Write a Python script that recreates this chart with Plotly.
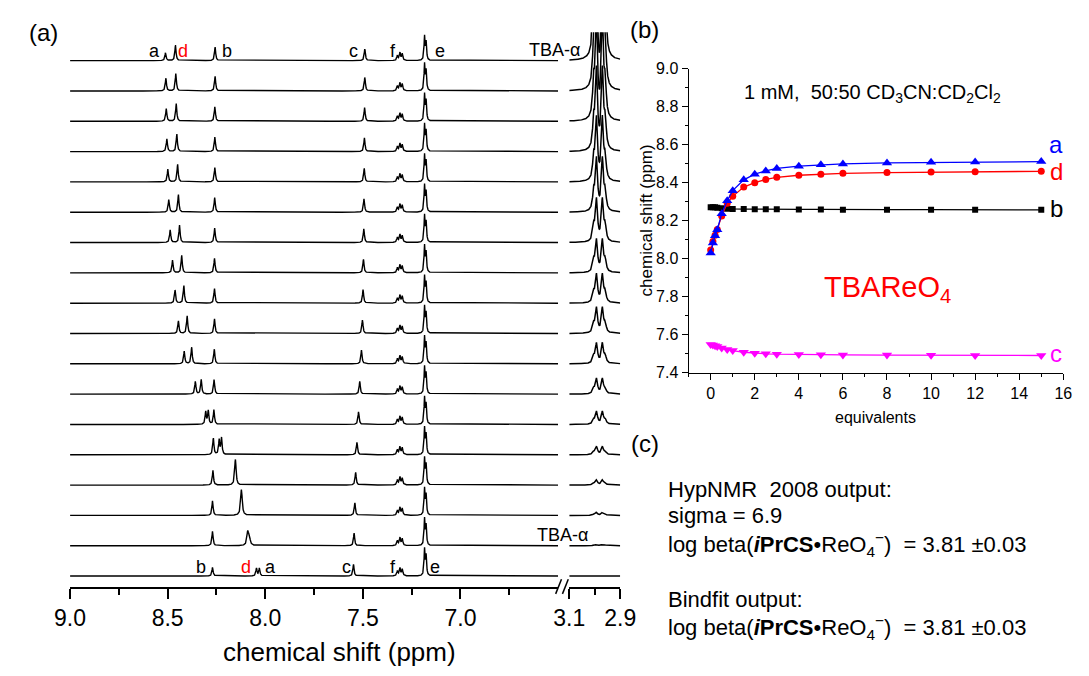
import numpy as np
import plotly.graph_objects as go

W, H = 1089, 676
FONT = "Liberation Sans, Arial, sans-serif"

# ---------------- data ----------------
equivalents = [0, 0.1, 0.2, 0.3, 0.5, 0.75, 1, 1.5, 2, 2.5, 3, 4, 5, 6, 8, 10, 12, 15]

shift_a = [8.030, 8.082, 8.121, 8.152, 8.236, 8.305, 8.358, 8.415, 8.445, 8.462, 8.475, 8.487,
           8.494, 8.499, 8.504, 8.507, 8.509, 8.511]
shift_d = [8.045, 8.090, 8.123, 8.154, 8.224, 8.292, 8.328, 8.377, 8.400, 8.417, 8.428, 8.439,
           8.445, 8.449, 8.453, 8.456, 8.458, 8.460]
shift_b = [8.270, 8.270, 8.270, 8.268, 8.266, 8.263, 8.262, 8.261, 8.260, 8.260, 8.260, 8.259,
           8.259, 8.258, 8.258, 8.258, 8.257, 8.257]
shift_c = [7.548, 7.545, 7.541, 7.537, 7.530, 7.522, 7.516, 7.507, 7.502, 7.499, 7.497, 7.495,
           7.494, 7.493, 7.492, 7.491, 7.490, 7.490]

# peak intensities (one stacking offset = 31 units)
height_a = [8, 9, 14, 14, 15, 13, 13, 13, 13, 13, 13, 13, 13, 13, 13, 13, 13, 8]
height_d = [8, 13, 14, 14, 17, 14, 15, 17, 18, 18, 18, 18, 18, 18, 18, 18, 18, 16]
height_b = [9, 15, 15, 15, 17, 15, 15, 15, 15, 15, 15, 15, 15, 15, 15, 15, 15, 14]
height_c = [12, 13, 13, 13, 13, 13, 13, 14, 14, 14, 14, 14, 14, 14, 14, 14, 14, 12]
width_ad = [0.0035, 0.005, 0.0045, 0.004, 0.0035, 0.0035, 0.0035, 0.0035, 0.0035, 0.0035,
            0.0035, 0.0035, 0.0035, 0.0035, 0.0035, 0.0035, 0.0035, 0.0035]

shift_f = [7.323, 7.310, 7.298]
height_f = [5, 8, 7]
shift_e = [7.184, 7.176]
height_e = [27, 20]

shift_tba = [3.004, 2.993, 2.970, 2.959]
rel_tba = [0.35, 1.0, 1.0, 0.35]
height_tba = [0, 1.5, 3, 5, 8, 12.5, 15, 20, 25, 28, 32, 42, 52, 62, 80, 100, 120, 150]

OFFSET = 31.1


def lor(x, x0, h, g):
    return h / (1.0 + ((x - x0) / g) ** 2)


def px_x(p):
    return p / W


def px_y(p):
    return 1 - p / H


fig = go.Figure()

grid_main = np.arange(6.5, 9.0005, 0.0008)
grid_tba = np.arange(2.9, 3.1002, 0.0004)

for i in range(len(equivalents)):
    s = np.zeros_like(grid_main)
    s += lor(grid_main, shift_a[i], height_a[i], width_ad[i])
    s += lor(grid_main, shift_d[i], height_d[i], width_ad[i])
    s += lor(grid_main, shift_b[i], height_b[i], 0.0035)
    s += lor(grid_main, shift_c[i], height_c[i], 0.0035)
    for p, h in zip(shift_f, height_f):
        s += lor(grid_main, p, h, 0.0035)
    for p, h in zip(shift_e, height_e):
        s += lor(grid_main, p, h * (0.9 if i == len(equivalents) - 1 else 1.0), 0.003)
    fig.add_trace(go.Scatter(x=grid_main, y=np.round(i + s / OFFSET, 4), mode="lines",
                             line=dict(color="black", width=1.4), xaxis="x", yaxis="y",
                             hoverinfo="skip", showlegend=False))
    t = np.zeros_like(grid_tba)
    for p, r in zip(shift_tba, rel_tba):
        t += lor(grid_tba, p, height_tba[i] * r, 0.0048)
    fig.add_trace(go.Scatter(x=grid_tba, y=np.round(i + t / OFFSET, 4), mode="lines",
                             line=dict(color="black", width=1.5), xaxis="x2", yaxis="y",
                             hoverinfo="skip", showlegend=False))

# ---------------- panel (b) ----------------
series_b = [
    ("c", shift_c, "#FF00FF", "triangle-down", 9),
    ("b", shift_b, "black", "square", 6),
    ("d", shift_d, "#FF0000", "circle", 7),
    ("a", shift_a, "#0000FF", "triangle-up", 9),
]
for name, vals, col, sym, sz in series_b:
    fig.add_trace(go.Scatter(x=equivalents, y=vals, mode="lines+markers", name=name,
                             line=dict(color=col, width=1.3),
                             marker=dict(color=col, symbol=sym, size=sz),
                             xaxis="x3", yaxis="y3", showlegend=False))

base_top = 25
base_bottom = 594
base0 = 582.7

axis_common = dict(showline=True, linecolor="black", linewidth=1.5, ticks="outside",
                   tickcolor="black", showgrid=False, zeroline=False)

fig.update_layout(
    width=W, height=676, margin=dict(l=0, r=0, t=0, b=0),
    paper_bgcolor="white", plot_bgcolor="white",
    font=dict(family=FONT, color="black"),
    xaxis=dict(domain=[px_x(55.7), px_x(558.5)], range=[9.0, 6.5], anchor="y",
               tickvals=[9.0, 8.5, 8.0, 7.5, 7.0], ticktext=["9.0", "8.5", "8.0", "7.5", "7.0"],
               ticklen=10, tickwidth=1.5, tickfont=dict(size=23),
               minor=dict(tickvals=[8.75, 8.25, 7.75, 7.25, 6.75], ticklen=6, tickwidth=1.5,
                          ticks="outside", tickcolor="black", showgrid=False),
               **axis_common),
    xaxis2=dict(domain=[px_x(570), px_x(622.5)], range=[3.1, 2.9], anchor="y",
                tickvals=[3.1, 2.9], ticktext=["3.1", "2.9"],
                ticklen=10, tickwidth=1.5, tickfont=dict(size=23),
                minor=dict(tickvals=[3.0], ticklen=6, tickwidth=1.5, ticks="outside",
                           tickcolor="black", showgrid=False),
                **axis_common),
    yaxis=dict(domain=[px_y(base_bottom), px_y(base_top)],
               range=[-(base_bottom - base0) / OFFSET, (base0 - base_top) / OFFSET],
               visible=False),
    xaxis3=dict(domain=[px_x(693), px_x(1079)], range=[-1, 16], anchor="y3",
                tickvals=list(range(0, 17, 2)), ticklen=6, tickwidth=1.2,
                tickfont=dict(size=16),
                minor=dict(dtick=1, tick0=0, ticklen=3, tickwidth=1.2, ticks="outside",
                           tickcolor="black", showgrid=False),
                showline=True, linecolor="black", linewidth=1.2, ticks="outside",
                tickcolor="black", showgrid=False, zeroline=False),
    yaxis3=dict(domain=[px_y(374), px_y(62.3)], range=[7.4, 9.0], anchor="x3",
                tickvals=[7.4, 7.6, 7.8, 8.0, 8.2, 8.4, 8.6, 8.8, 9.0], tickformat=".1f",
                ticklen=6, tickwidth=1.2, tickfont=dict(size=16),
                minor=dict(dtick=0.1, tick0=7.4, ticklen=3, tickwidth=1.2, ticks="outside",
                           tickcolor="black", showgrid=False),
                showline=True, linecolor="black", linewidth=1.2, ticks="outside",
                tickcolor="black", showgrid=False, zeroline=False),
)

# axis break marks
for x0 in (556, 563):
    fig.add_shape(type="line", xref="paper", yref="paper",
                  x0=px_x(x0), y0=px_y(601), x1=px_x(x0 + 6), y1=px_y(586),
                  line=dict(color="black", width=1.5))

ann = []


def label(text, x, y, size, color="black", xanchor="center", angle=0):
    ann.append(dict(text=text, x=px_x(x), y=px_y(y), xref="paper", yref="paper",
                    xanchor=xanchor, yanchor="middle", showarrow=False, textangle=angle,
                    font=dict(size=size, color=color, family=FONT)))


label("(a)", 28, 25, 24)
label("(b)", 648, 22, 24)
label("(c)", 648, 447, 24)

# peak labels, top spectrum
for t, x, c in [("a", 143, "black"), ("d", 172, "red"), ("b", 217, "black"),
                ("c", 348, "black"), ("f", 388, "black"), ("e", 437, "black")]:
    label(t, x, 44, 18, c)
label("TBA-α", 555, 43, 18)
# peak labels, bottom spectrum
for t, x, c in [("b", 191, "black"), ("d", 237, "red"), ("a", 262, "black"),
                ("c", 340, "black"), ("f", 388, "black"), ("e", 432, "black")]:
    label(t, x, 573, 18, c)
label("TBA-α", 563, 541, 18)

label("chemical shift (ppm)", 333, 661, 26)

# panel (b) texts
label("1 mM,  50:50 CD<sub>3</sub>CN:CD<sub>2</sub>Cl<sub>2</sub>", 882, 88, 20)
label("TBAReO<sub>4</sub>", 898, 288, 29, "#FF0000")
label("a", 1072, 140, 24, "#0000FF")
label("d", 1072, 168, 24, "#FF0000")
label("b", 1072, 206, 24, "black")
label("c", 1072, 354, 24, "#FF00FF")
label("equivalents", 886, 420, 16)
label("chemical shift (ppm)", 650, 218, 17, angle=-90)

# panel (c) texts
lb = "log beta(<b><i>i</i>PrCS</b>•ReO<sub>4</sub><sup>−</sup>)  = 3.81 ±0.03"
label("HypNMR  2008 output:", 670, 494, 22, xanchor="left")
label("sigma = 6.9", 670, 521, 22, xanchor="left")
label(lb, 670, 550, 22, xanchor="left")
label("Bindfit output:", 670, 607, 22, xanchor="left")
label(lb, 670, 635, 22, xanchor="left")

fig.update_layout(annotations=ann)
fig.write_html("out.html")
